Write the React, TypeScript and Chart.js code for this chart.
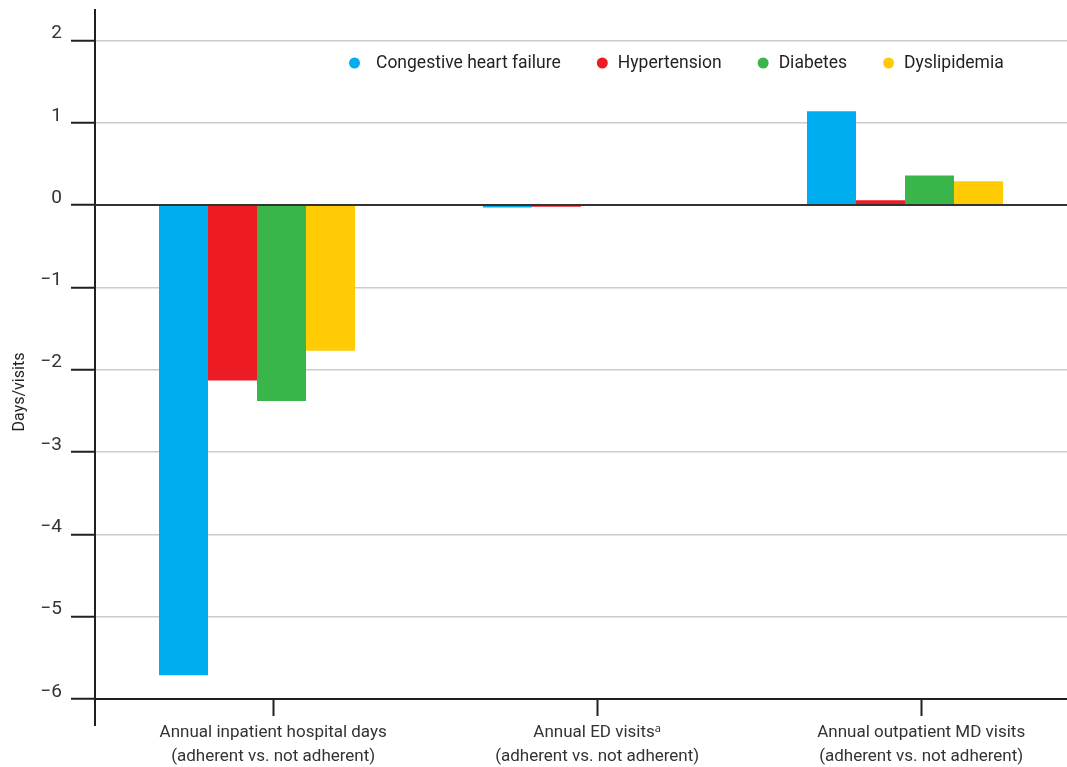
import React, { useEffect, useRef } from "react";
import { Chart, registerables } from "chart.js";

Chart.register(...registerables);

// ---- data ----
const categoryLines: string[][] = [
  ["Annual inpatient hospital days", "(adherent vs. not adherent)"],
  ["Annual ED visits\u1d43", "(adherent vs. not adherent)"],
  ["Annual outpatient MD visits", "(adherent vs. not adherent)"],
];
const categories = ["Inpatient days", "ED visits", "Outpatient MD visits"];

const chfValues = [-5.71, -0.03, 1.14];
const hypertensionValues = [-2.13, -0.02, 0.06];
const diabetesValues = [-2.38, -0.01, 0.36];
const dyslipidemiaValues = [-1.77, 0.0, 0.29];

const seriesLabels = ["Congestive heart failure", "Hypertension", "Diabetes", "Dyslipidemia"];
const seriesColors = ["#00adef", "#ed1c24", "#3ab54a", "#ffcb05"];

const yTicks = [-6, -5, -4, -3, -2, -1, 0, 1, 2];
const yMin = -6;
const yMax = 2.37;
const yTitle = "Days/visits";

const FONT = "Roboto, 'Noto Sans', sans-serif";
const INK = "#231f20";

const decorPlugin = {
  id: "decor",
  afterDatasetsDraw(chart: any) {
    const { ctx, chartArea, scales } = chart;
    const y0 = scales.y.getPixelForValue(0);
    ctx.save();
    ctx.strokeStyle = "#333333";
    ctx.lineWidth = 2;
    ctx.beginPath();
    ctx.moveTo(chartArea.left, y0);
    ctx.lineTo(chartArea.right, y0);
    ctx.stroke();
    ctx.restore();
  },
  afterDraw(chart: any) {
    const { ctx, chartArea } = chart;
    ctx.save();
    // y-axis extension below the x axis
    ctx.strokeStyle = INK;
    ctx.lineWidth = 2;
    ctx.beginPath();
    ctx.moveTo(chartArea.left, chartArea.bottom);
    ctx.lineTo(chartArea.left, chartArea.bottom + 27);
    ctx.stroke();

    // y title
    ctx.save();
    ctx.translate(20, 392);
    ctx.rotate(-Math.PI / 2);
    ctx.font = `16px ${FONT}`;
    ctx.fillStyle = INK;
    ctx.textAlign = "center";
    ctx.textBaseline = "middle";
    ctx.fillText(yTitle, 0, 0);
    ctx.restore();

    // legend
    ctx.font = `17.5px ${FONT}`;
    ctx.textBaseline = "middle";
    ctx.textAlign = "left";
    const ly = 63;
    let x = 349;
    const r = 5.5;
    chart.data.datasets.forEach((ds: any, i: number) => {
      ctx.fillStyle = ds.backgroundColor;
      ctx.beginPath();
      ctx.arc(x + r, ly, r, 0, Math.PI * 2);
      ctx.fill();
      x += 2 * r + (i === 0 ? 16 : 10);
      ctx.fillStyle = INK;
      ctx.fillText(ds.label, x, ly + 1);
      x += ctx.measureText(ds.label).width + 36;
    });
    ctx.restore();
  },
};

export default function App() {
  const ref = useRef<HTMLCanvasElement | null>(null);

  useEffect(() => {
    if (!ref.current) return;
    const allSeries = [chfValues, hypertensionValues, diabetesValues, dyslipidemiaValues];
    const chart = new Chart(ref.current, {
      type: "bar",
      data: {
        labels: categories,
        datasets: allSeries.map((vals, i) => ({
          label: seriesLabels[i],
          data: vals,
          backgroundColor: seriesColors[i],
          borderWidth: 0,
          barPercentage: 1,
          categoryPercentage: 0.605,
          xAxisID: "x",
          yAxisID: "y",
        })),
      },
      options: {
        responsive: false,
        animation: false,
        layout: { padding: { left: 0, right: 0, top: 10, bottom: 0 } },
        plugins: {
          legend: { display: false },
          tooltip: { enabled: false },
        },
        scales: {
          x: {
            type: "category",
            display: false,
          },
          xl: {
            type: "linear",
            position: "bottom",
            offset: false,
            min: -0.5,
            max: 2.5,
            afterBuildTicks: (scale: any) => {
              scale.ticks = categoryLines.map((_, i) => ({ value: i + 0.05 }));
            },
            afterFit: (scale: any) => {
              scale.height = 68;
              scale.paddingLeft = 0;
              scale.paddingRight = 0;
            },
            grid: {
              offset: false,
              drawOnChartArea: false,
              drawTicks: true,
              tickLength: 17,
              tickColor: INK,
              tickWidth: 2,
            },
            border: { display: true, color: INK, width: 2 },
            ticks: {
              autoSkip: false,
              maxRotation: 0,
              minRotation: 0,
              padding: 5,
              color: "#333",
              font: { family: FONT, size: 17, lineHeight: 1.4 },
              callback: (_v: any, index: number) => categoryLines[index],
            },
          },
          y: {
            type: "linear",
            min: yMin,
            max: yMax,
            afterBuildTicks: (scale: any) => {
              scale.ticks = yTicks.map((v) => ({ value: v }));
            },
            afterFit: (scale: any) => {
              scale.width = 95;
              scale.paddingTop = 0;
              scale.paddingBottom = 0;
            },
            grid: {
              color: "#cccccc",
              lineWidth: 1.5,
              drawTicks: true,
              tickLength: 24,
              tickColor: INK,
              tickWidth: 2,
            },
            border: { display: true, color: INK, width: 2 },
            ticks: {
              padding: 9,
              labelOffset: -7,
              color: "#333",
              font: { family: FONT, size: 19 },
              callback: (v: any) => (Number(v) < 0 ? "\u2212" + Math.abs(Number(v)) : String(v)),
            },
          },
        },
      } as any,
      plugins: [decorPlugin],
    });
    return () => chart.destroy();
  }, []);

  return (
    <div style={{ position: "fixed", left: 0, top: 0, width: 1067, height: 767, background: "#fff" }}>
      <canvas ref={ref} width={1067} height={767} style={{ display: "block" }} />
    </div>
  );
}
